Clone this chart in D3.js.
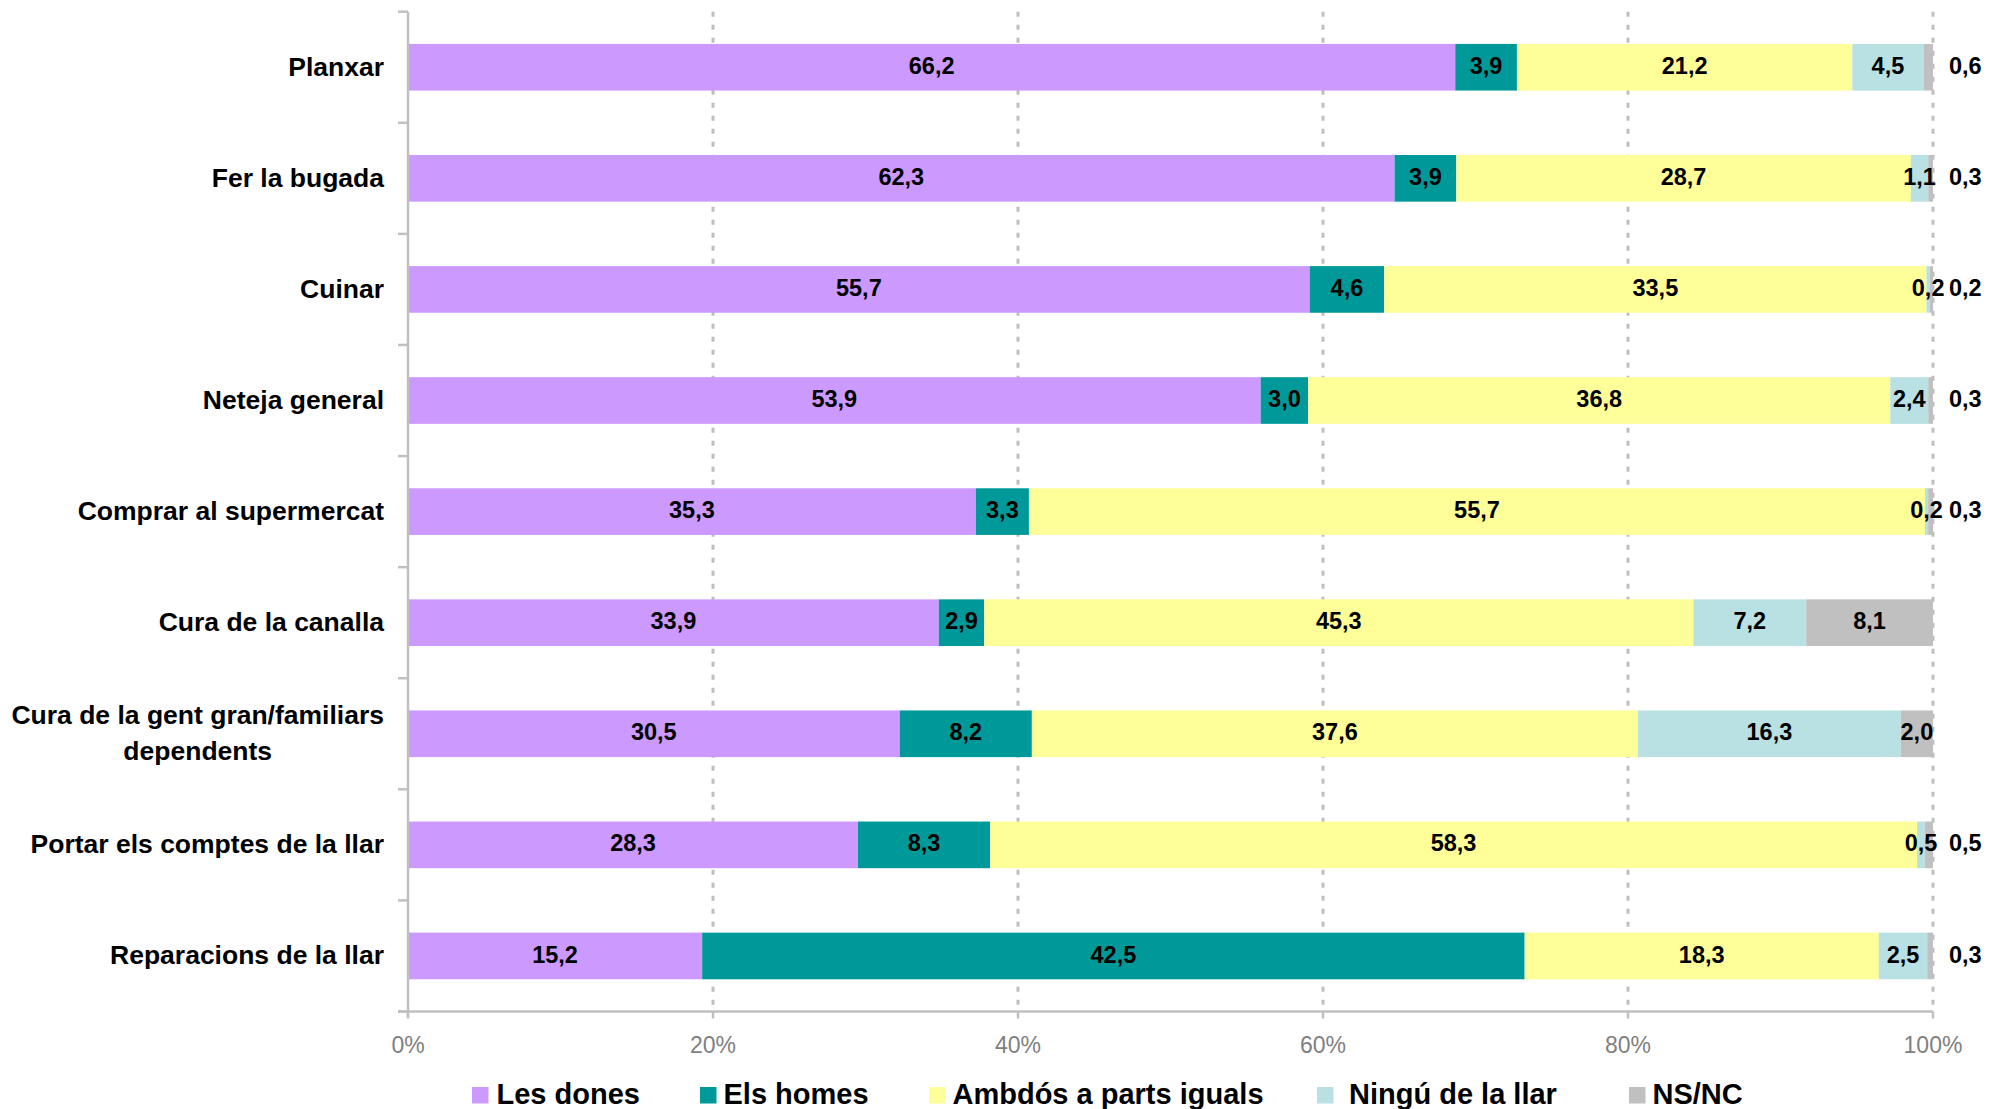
<!DOCTYPE html>
<html>
<head>
<meta charset="utf-8">
<script src="https://cdn.jsdelivr.net/npm/d3@7"></script>
<style>
  html, body { margin: 0; padding: 0; background: #ffffff; }
  svg { display: block; font-family: "Liberation Sans", Arial, sans-serif; }
</style>
</head>
<body>
<svg id="chart" width="1993" height="1109"></svg>
<script>
// ---- Data ----
const categories = [
  "Planxar",
  "Fer la bugada",
  "Cuinar",
  "Neteja general",
  "Comprar al supermercat",
  "Cura de la canalla",
  "Cura de la gent gran/familiars dependents",
  "Portar els comptes de la llar",
  "Reparacions de la llar"
];
const seriesNames = ["Les dones", "Els homes", "Ambdós a parts iguals", "Ningú de la llar", "NS/NC"];
const lesDones = [66.2, 62.3, 55.7, 53.9, 35.3, 33.9, 30.5, 28.3, 15.2];
const elsHomes = [3.9, 3.9, 4.6, 3.0, 3.3, 2.9, 8.2, 8.3, 42.5];
const ambdos   = [21.2, 28.7, 33.5, 36.8, 55.7, 45.3, 37.6, 58.3, 18.3];
const ningu    = [4.5, 1.1, 0.2, 2.4, 0.2, 7.2, 16.3, 0.5, 2.5];
const nsnc     = [0.6, 0.3, 0.2, 0.3, 0.3, 8.1, 2.0, 0.5, 0.3];
const xTickValues = [0, 0.2, 0.4, 0.6, 0.8, 1.0];
const xTickLabels = ["0%", "20%", "40%", "60%", "80%", "100%"];
const seriesColors = ["#CC99FF", "#009999", "#FFFF99", "#B9E0E2", "#C0C0C0"];

// ---- Build table ----
const seriesArrays = [lesDones, elsHomes, ambdos, ningu, nsnc];
const table = categories.map((c, i) => {
  const row = { cat: c };
  seriesNames.forEach((s, j) => { row[s] = seriesArrays[j][i]; });
  return row;
});
const stacked = d3.stack().keys(seriesNames).offset(d3.stackOffsetExpand)(table);

// ---- Layout ----
const svg = d3.select("#chart");
const x0 = 408, x1 = 1933, yTop = 11.7, yBot = 1011.5;
const x = d3.scaleLinear().domain([0, 1]).range([x0, x1]);
const y = d3.scaleBand().domain(categories).range([yTop, yBot]).paddingInner(0.58).paddingOuter(0.29);
const step = y.step();
const color = d3.scaleOrdinal().domain(seriesNames).range(seriesColors);
const fmt = v => d3.format(".1f")(v).replace(".", ",");

// gridlines
svg.append("g").selectAll("line").data(xTickValues.slice(1)).join("line")
  .attr("x1", d => x(d)).attr("x2", d => x(d))
  .attr("y1", yTop).attr("y2", yBot)
  .attr("stroke", "#BFBFBF").attr("stroke-width", 3)
  .attr("stroke-dasharray", "5,8");

// bars
const layers = svg.append("g").selectAll("g").data(stacked).join("g")
  .attr("fill", d => color(d.key));
layers.selectAll("rect").data(d => d).join("rect")
  .attr("x", d => x(d[0]))
  .attr("width", d => x(d[1]) - x(d[0]))
  .attr("y", d => y(d.data.cat))
  .attr("height", y.bandwidth());

// value labels
const labelG = svg.append("g")
  .attr("font-size", 23.5).attr("font-weight", "bold").attr("fill", "#000");
stacked.forEach((layer, li) => {
  layer.forEach(d => {
    const v = d.data[layer.key];
    const outside = layer.key === "NS/NC" && v < 1;
    labelG.append("text")
      .attr("x", outside ? x1 + 16 : (x(d[0]) + x(d[1])) / 2)
      .attr("y", y(d.data.cat) + y.bandwidth() / 2)
      .attr("dy", "0.28em")
      .attr("text-anchor", outside ? "start" : "middle")
      .text(fmt(v));
  });
});

// y axis
const axisColor = "#C0C0C0";
svg.append("line").attr("x1", x0).attr("x2", x0).attr("y1", yTop).attr("y2", yBot + 6)
  .attr("stroke", axisColor).attr("stroke-width", 2.5);
svg.append("g").selectAll("line").data(d3.range(categories.length + 1)).join("line")
  .attr("x1", x0 - 10).attr("x2", x0)
  .attr("y1", i => yTop + i * step).attr("y2", i => yTop + i * step)
  .attr("stroke", axisColor).attr("stroke-width", 2.5);

// x axis
svg.append("line").attr("x1", x0 - 10).attr("x2", x1).attr("y1", yBot).attr("y2", yBot)
  .attr("stroke", axisColor).attr("stroke-width", 2.5);
svg.append("g").selectAll("line").data(xTickValues).join("line")
  .attr("x1", d => x(d)).attr("x2", d => x(d))
  .attr("y1", yBot).attr("y2", yBot + 7)
  .attr("stroke", axisColor).attr("stroke-width", 2.5);
svg.append("g").selectAll("text").data(xTickValues).join("text")
  .attr("x", d => x(d)).attr("y", 1052.5)
  .attr("text-anchor", "middle").attr("font-size", 23).attr("fill", "#7F7F7F")
  .text((d, i) => xTickLabels[i]);

// category labels (wrapped, block right-aligned, lines centred)
const catG = svg.append("g").attr("font-size", 26.5).attr("font-weight", "bold").attr("fill", "#000");
const labelRight = 384, maxW = 380, lineH = 35.6;
categories.forEach(c => {
  const t = catG.append("text").attr("text-anchor", "middle");
  const words = c.split(" ");
  const lines = [];
  let cur = [];
  const probe = catG.append("text");
  words.forEach(w => {
    const test = cur.concat([w]).join(" ");
    probe.text(test);
    if (probe.node().getComputedTextLength() > maxW && cur.length) {
      lines.push(cur.join(" ")); cur = [w];
    } else cur.push(w);
  });
  lines.push(cur.join(" "));
  let widest = 0;
  lines.forEach(l => { probe.text(l); widest = Math.max(widest, probe.node().getComputedTextLength()); });
  probe.remove();
  const cx = labelRight - widest / 2;
  const cy = y(c) + y.bandwidth() / 2;
  lines.forEach((l, k) => {
    t.append("tspan").attr("x", cx)
      .attr("y", cy + (k - (lines.length - 1) / 2) * lineH)
      .attr("dy", "0.32em").text(l);
  });
});

// legend
const legendX = [472, 700, 929, 1317, 1629];
const legendTextOffset = [24.5, 23.5, 23.5, 32, 23.5];
const lg = svg.append("g").selectAll("g").data(seriesNames).join("g")
  .attr("transform", (d, i) => `translate(${legendX[i]},0)`);
lg.append("rect").attr("x", 0).attr("y", 1087).attr("width", 16.5).attr("height", 16.5)
  .attr("fill", d => color(d));
lg.append("text").attr("x", (d, i) => legendTextOffset[i]).attr("y", 1104)
  .attr("font-size", 29).attr("font-weight", "bold").attr("fill", "#000")
  .text(d => d);
</script>
</body>
</html>
